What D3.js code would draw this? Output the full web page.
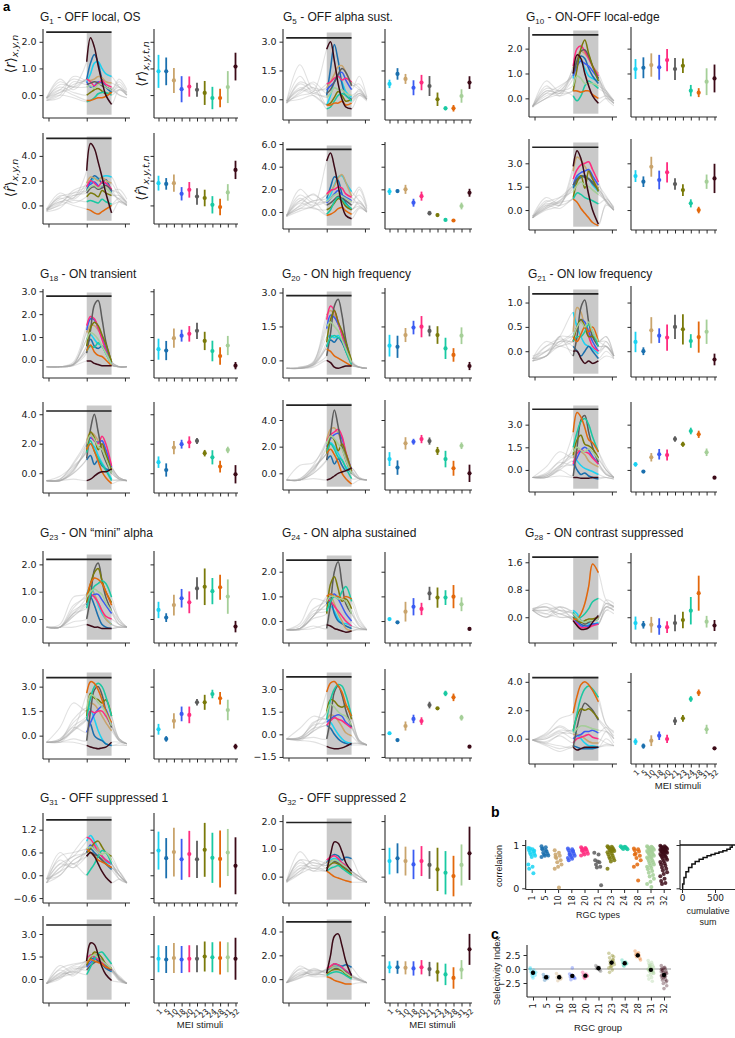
<!DOCTYPE html>
<html><head><meta charset="utf-8">
<script src="https://cdn.jsdelivr.net/npm/d3@7"></script>
<style>body{margin:0;background:#fff}svg{display:block}</style>
</head><body><svg id="fig" width="735" height="1038"></svg>
<script>
// ---------------- DATA ----------------
const stimuli = ["1","5","10","18","20","21","23","24","28","31","32"];
const stimColors = ["#19d3f3","#1a6fae","#c9a46c","#3b5bf2","#ff2b7f","#5c5c5c","#7a7a0a","#19c9a2","#e3680c","#a5cf98","#3c0a17"];
const groupIds = ["1","5","10","18","20","21","23","24","28","31","32"];
const groupNames = ["OFF local, OS","OFF alpha sust.","ON-OFF local-edge","ON transient","ON high frequency","ON low frequency","ON \u201cmini\u201d alpha","ON alpha sustained","ON contrast suppressed","OFF suppressed 1","OFF suppressed 2"];
const timePoints = [-1.05,-0.7,-0.35,0,0.1,0.2,0.3,0.4,0.5,0.65,0.85,1.05];
const timeDomain = [-1.06,1.08];
const timeTicks = [-1,0,1];
const windowSpan = [0,0.65];

const yDomR = [[-0.86,2.48],[-1.08,3.66],[-0.75,2.87],[-0.79,3.1],[-0.78,3.2],[-0.53,1.34],[-0.88,2.49],[-0.89,2.8],[-0.75,1.87],[-0.73,1.64],[-0.95,2.22]];
const yTicksR = [[0,1,2],[0,1.5,3],[0,1,2],[0,1,2,3],[0,1.5,3],[0,0.5,1],[0,1,2],[0,1,2],[0,0.8,1.6],[-0.6,0,0.6,1.2],[0,1,2]];
const barR = [2.36,3.2,2.55,2.79,2.86,1.18,2.18,2.47,1.75,1.46,1.95];
const yDomH = [[-1.5,5.85],[-1.5,6.18],[-1.28,4.56],[-1.34,4.83],[-1.25,5.5],[-1.46,4.5],[-1.43,4.08],[-1.57,4.33],[-1.78,4.62],[-1.6,4.2],[-2.0,5.3]];
const yTicksH = [[0,2,4],[0,2,4,6],[0,1.5,3],[0,2,4],[0,2,4],[0,1.5,3],[0,1.5,3],[-1.5,0,1.5,3],[0,2,4],[0,1.5,3],[0,2,4]];
const barH = [5.42,5.53,4.03,4.22,5.12,4.02,3.55,3.81,4.29,3.6,4.8];

const meanR = [
[0.89,0.89,0.55,0.22,0.32,0.2,0.08,-0.11,-0.11,0.3,1.07],
[0.8,1.32,1.06,0.6,0.87,0.69,0.0,-0.47,-0.47,0.17,0.87],
[1.18,1.23,1.34,1.25,1.54,1.18,1.31,0.31,0.23,0.67,0.8],
[0.47,0.41,0.95,1.06,1.14,1.27,0.83,0.39,0.17,0.63,-0.25],
[0.65,0.6,1.12,1.45,1.49,1.3,1.12,0.53,0.24,1.09,-0.25],
[0.19,0.0,0.43,0.32,0.28,0.5,0.45,0.21,0.29,0.4,-0.17],
[0.33,0.05,0.51,0.76,0.61,1.12,1.18,1.02,1.16,0.82,-0.28],
[0.08,-0.05,0.38,0.58,0.49,1.12,0.95,0.95,0.99,0.68,-0.32],
[-0.17,-0.22,-0.22,-0.27,-0.29,-0.17,-0.08,0.19,0.7,-0.13,-0.24],
[0.65,0.45,0.61,0.42,0.56,0.42,0.67,0.46,0.43,0.6,0.25],
[0.56,0.66,0.56,0.44,0.56,0.42,0.26,0.14,0.02,0.42,0.84]];
const errR = [
[0.62,0.52,0.47,0.49,0.38,0.26,0.45,0.42,0.35,0.6,0.52],
[0.22,0.3,0.26,0.39,0.4,0.52,0.35,0.1,0.17,0.35,0.33],
[0.4,0.42,0.47,0.5,0.45,0.44,0.29,0.23,0.18,0.54,0.56],
[0.46,0.42,0.42,0.26,0.34,0.36,0.4,0.45,0.38,0.42,0.16],
[0.48,0.49,0.31,0.3,0.47,0.24,0.39,0.47,0.3,0.37,0.18],
[0.21,0.08,0.27,0.15,0.27,0.25,0.31,0.14,0.32,0.25,0.12],
[0.3,0.16,0.38,0.34,0.4,0.41,0.67,0.48,0.46,0.63,0.21],
[0.04,0.05,0.4,0.35,0.25,0.27,0.41,0.3,0.47,0.28,0.05],
[0.19,0.11,0.23,0.24,0.17,0.24,0.24,0.4,0.51,0.17,0.16],
[0.5,0.53,0.64,0.54,0.61,0.49,0.71,0.66,0.75,0.62,0.75],
[0.48,0.54,0.52,0.53,0.54,0.5,0.78,0.78,0.73,0.74,0.96]];
const meanH = [
[1.8,1.74,1.8,0.94,1.26,0.72,0.6,0.05,-0.13,1.05,2.87],
[1.8,1.85,2.0,0.82,1.4,-0.1,-0.27,-0.7,-0.75,0.53,1.7],
[2.18,1.82,2.78,1.93,2.42,1.67,1.28,0.43,0.0,1.82,2.03],
[0.75,0.22,1.74,1.97,2.1,2.19,1.36,1.08,0.45,1.58,-0.07],
[1.07,0.43,2.25,2.37,2.57,2.42,1.68,1.07,0.38,2.07,0.0],
[0.37,-0.11,0.84,1.04,0.99,2.05,1.7,2.58,2.36,1.17,-0.51],
[0.39,-0.2,0.9,1.33,1.27,2.04,2.04,2.55,2.29,1.57,-0.67],
[0.07,-0.38,0.55,1.02,0.88,1.94,1.72,2.71,2.45,1.1,-0.82],
[-0.21,-0.52,-0.14,0.21,-0.02,1.24,1.43,2.79,3.23,0.66,-0.68],
[1.35,1.3,1.4,1.3,1.35,1.35,1.5,1.45,1.4,1.45,1.35],
[1.0,1.0,0.95,0.9,1.0,0.85,0.6,0.4,0.1,0.8,2.5]];
const errH = [
[0.6,0.47,0.7,0.54,0.63,0.67,0.67,0.7,0.67,0.67,0.74],
[0.3,0.15,0.4,0.35,0.4,0.2,0.15,0.1,0.1,0.3,0.35],
[0.38,0.34,0.64,0.6,0.65,0.37,0.37,0.26,0.21,0.46,0.94],
[0.39,0.45,0.45,0.3,0.4,0.2,0.22,0.48,0.4,0.22,0.62],
[0.52,0.54,0.46,0.22,0.31,0.27,0.3,0.62,0.56,0.25,0.65],
[0.15,0.09,0.28,0.35,0.37,0.19,0.17,0.22,0.24,0.25,0.07],
[0.33,0.17,0.47,0.45,0.51,0.2,0.46,0.26,0.38,0.63,0.17],
[0.1,0.08,0.3,0.28,0.25,0.22,0.08,0.18,0.25,0.19,0.05],
[0.23,0.18,0.38,0.3,0.29,0.27,0.23,0.2,0.23,0.32,0.1],
[0.9,0.9,1.0,0.9,0.9,0.9,1.0,1.0,1.1,1.0,1.4],
[0.5,0.55,0.55,0.6,0.6,0.6,0.8,0.9,0.9,0.8,1.3]];

// traces: one row per stimulus (order of `stimuli`), values at `timePoints`
const trR_1 = [
[-0.1,0.2,0.6,0.5,0.8,1.2,1.25,1.0,0.8,0.7,0.3,0.0],
[-0.15,0.1,0.4,0.6,1.2,1.52,1.2,0.6,0.3,0.1,0.2,0.0],
[-0.1,0.5,0.3,0.6,0.55,0.6,0.7,0.65,0.5,0.45,0.3,0.1],
[-0.2,0.0,0.7,0.5,0.3,0.35,0.5,0.45,0.3,0.2,0.5,0.1],
[-0.1,0.6,0.2,0.6,0.5,0.35,0.45,0.55,0.4,0.3,0.0,-0.1],
[-0.2,-0.1,0.5,0.4,0.45,0.5,0.45,0.35,0.3,0.2,0.6,0.2],
[-0.1,0.3,0.1,0.0,0.1,0.2,0.25,0.15,0.05,0.1,0.4,0.0],
[-0.2,0.0,-0.1,-0.25,-0.2,-0.1,0.05,0.1,0.1,0.0,0.2,0.1],
[-0.1,0.2,0.0,-0.2,-0.2,-0.15,-0.1,-0.1,-0.05,0.1,0.3,0.0],
[-0.15,0.4,0.3,0.3,0.35,0.25,0.4,0.4,0.3,0.2,0.0,-0.1],
[-0.1,0.1,0.3,1.25,2.15,1.8,1.1,0.5,0.0,-0.35,0.2,0.0]];
const trH_1 = [
[-0.3,0.2,1.0,1.5,1.8,2.2,2.1,2.3,2.4,2.3,1.0,0.2],
[-0.4,0.5,0.8,1.2,2.0,2.4,2.2,1.8,2.1,1.0,0.5,0.0],
[-0.5,0.8,0.6,1.8,2.3,2.2,2.0,2.3,2.0,1.8,0.8,0.3],
[-0.4,0.1,1.2,1.6,1.7,1.9,1.6,1.5,1.8,1.2,1.0,0.2],
[-0.3,1.0,0.5,1.5,2.0,1.8,1.5,1.9,1.8,1.3,0.3,0.0],
[-0.5,-0.2,0.8,1.0,1.4,1.5,1.3,1.4,1.6,1.2,1.3,0.5],
[-0.3,0.6,0.2,0.7,1.0,0.9,0.7,1.2,1.0,0.8,0.8,0.1],
[-0.4,0.0,0.4,0.3,0.4,0.3,0.2,0.5,0.3,0.1,0.6,0.0],
[-0.3,0.3,0.0,-0.3,-0.4,-0.6,-0.7,-0.5,-0.3,0.0,0.3,0.1],
[-0.4,0.7,1.0,1.2,1.5,1.6,1.4,1.6,1.4,1.0,0.5,0.0],
[-0.3,0.3,0.6,2.8,5.0,4.6,3.5,2.3,1.0,-0.6,0.3,0.0]];
const trR_5 = [
[-0.1,0.5,0.8,-0.3,0.2,0.9,1.2,0.9,0.4,0.1,0.3,0.0],
[-0.2,0.6,0.3,0.2,1.6,2.85,2.0,0.8,0.2,0.0,0.3,0.0],
[-0.1,1.8,0.5,0.6,0.9,1.3,1.7,1.75,1.4,0.8,0.5,0.0],
[-0.2,0.9,0.6,0.5,0.7,0.9,1.3,1.4,1.0,0.5,1.2,0.1],
[-0.1,1.2,0.3,0.8,0.9,1.1,1.2,1.0,1.1,0.9,0.6,0.0],
[-0.2,0.4,0.9,0.3,0.5,0.9,1.3,1.6,1.4,0.7,0.8,0.1],
[-0.1,0.5,0.2,-0.3,-0.2,0.1,0.4,0.2,-0.1,0.0,0.5,0.0],
[-0.2,0.3,0.6,-0.5,-0.4,-0.1,0.2,0.3,0.2,-0.1,0.3,0.0],
[-0.1,0.0,0.2,-0.3,-0.3,-0.2,-0.2,-0.1,-0.3,-0.2,0.2,-0.1],
[-0.2,0.8,0.4,0.1,0.3,0.6,0.5,0.5,0.3,0.2,0.4,0.0],
[-0.1,0.2,0.4,2.6,3.0,2.0,0.8,0.0,-0.4,-0.5,0.2,0.0]];
const trH_5 = [
[-0.3,1.5,0.8,1.0,1.5,2.4,3.1,3.2,2.6,1.8,1.0,0.2],
[-0.3,0.5,1.0,1.2,2.2,3.1,2.8,1.6,0.8,0.2,0.8,0.1],
[-0.4,2.0,1.0,1.5,1.8,2.3,3.0,3.3,2.6,1.4,2.2,0.5],
[-0.3,1.0,1.5,0.8,1.2,1.6,1.9,1.5,1.3,1.0,1.5,0.3],
[-0.4,1.2,0.5,1.6,1.9,2.0,2.2,2.1,1.6,1.3,0.6,0.0],
[-0.3,0.6,1.6,0.6,0.8,1.1,1.4,1.2,1.0,0.6,2.0,0.3],
[-0.4,0.8,0.3,0.2,0.4,0.8,1.2,1.0,0.5,0.2,1.0,0.0],
[-0.3,0.3,0.9,-0.2,0.2,0.9,1.3,1.1,0.7,0.3,0.5,0.0],
[-0.4,0.1,0.4,-0.3,-0.2,0.0,0.3,0.4,0.1,-0.2,0.4,0.0],
[-0.3,1.0,0.6,0.9,1.2,1.5,1.6,1.4,1.2,0.9,0.8,0.1],
[-0.3,0.3,0.5,4.5,5.2,4.0,2.3,0.6,-0.3,-0.6,0.3,0.0]];
const trR_10 = [
[-0.35,0.3,0.2,0.8,1.6,1.5,1.2,0.9,0.8,0.7,0.2,-0.1],
[-0.3,0.0,0.4,1.0,1.5,1.7,1.6,1.2,0.9,0.6,0.1,-0.2],
[-0.35,0.7,0.3,1.2,1.7,1.9,1.8,1.6,1.3,1.0,0.3,-0.1],
[-0.3,0.2,0.5,0.9,1.3,1.5,1.4,1.3,1.1,0.8,0.2,-0.2],
[-0.35,0.5,0.1,1.3,2.0,2.1,1.9,1.6,1.3,0.9,0.0,-0.3],
[-0.3,0.1,0.3,1.0,1.5,1.9,1.95,1.7,1.3,0.8,0.3,-0.2],
[-0.35,0.3,0.2,0.3,1.2,2.0,2.35,1.8,1.3,0.7,0.1,-0.2],
[-0.3,0.0,0.3,0.1,-0.1,0.1,0.5,0.7,0.6,0.4,0.2,-0.1],
[-0.35,0.2,0.1,0.3,0.3,0.25,0.3,0.3,0.15,0.0,0.1,-0.1],
[-0.3,0.4,0.3,0.5,0.9,0.8,0.6,0.6,0.6,0.5,0.3,-0.1],
[-0.35,0.0,0.2,1.0,1.75,1.6,1.0,0.5,0.1,-0.2,0.0,-0.2]];
const trH_10 = [
[-0.5,0.3,0.6,1.5,2.1,2.2,2.1,2.0,1.6,1.2,0.5,0.0],
[-0.4,0.1,0.5,1.4,1.9,2.1,2.2,2.0,1.8,1.4,0.6,0.0],
[-0.5,0.6,0.3,2.5,3.4,3.2,2.8,2.4,2.0,1.4,0.6,0.0],
[-0.5,0.2,0.8,1.6,2.2,2.4,2.5,2.6,2.2,1.6,0.9,0.1],
[-0.4,0.8,0.4,2.0,2.6,2.9,3.0,3.1,2.6,1.8,0.5,0.0],
[-0.5,0.1,0.6,1.6,2.0,2.2,2.1,2.0,1.7,1.3,0.8,0.2],
[-0.5,0.4,0.3,0.8,1.8,2.2,1.4,2.5,2.0,1.2,0.6,0.0],
[-0.4,0.2,0.5,0.7,1.1,1.0,0.8,0.7,0.6,0.4,0.7,0.1],
[-0.5,0.3,0.1,0.7,0.5,0.1,-0.2,-0.5,-0.8,-1.0,0.4,0.0],
[-0.4,0.5,0.8,1.2,1.6,1.8,1.6,1.5,1.3,1.0,0.6,0.1],
[-0.5,0.0,0.3,2.8,3.8,3.3,2.2,1.0,0.0,-0.9,0.3,0.0]];
const trR_18 = [
[-0.3,-0.3,-0.2,0.9,1.1,0.9,0.7,0.6,0.3,-0.2,-0.3,-0.3],
[-0.3,-0.3,-0.25,0.6,0.9,0.6,0.5,0.6,0.4,-0.1,-0.3,-0.3],
[-0.3,-0.3,-0.2,1.2,1.5,1.5,1.3,1.0,0.6,-0.1,-0.3,-0.3],
[-0.3,-0.3,-0.2,1.3,1.8,1.75,1.4,1.0,0.5,-0.2,-0.3,-0.3],
[-0.3,-0.3,-0.1,1.5,1.9,1.8,1.4,0.9,0.4,-0.2,-0.3,-0.3],
[-0.3,-0.3,-0.2,0.3,1.3,2.4,2.6,1.8,0.8,-0.1,-0.3,-0.3],
[-0.3,-0.3,-0.2,0.6,1.4,1.65,1.5,1.1,0.7,-0.1,-0.3,-0.3],
[-0.3,-0.3,-0.2,0.4,0.6,0.55,0.75,0.6,0.3,-0.2,-0.3,-0.3],
[-0.3,-0.3,-0.2,0.4,0.65,0.35,0.2,0.15,0.0,-0.25,-0.3,-0.3],
[-0.3,-0.3,-0.15,0.9,1.2,1.1,0.9,0.6,0.3,-0.2,-0.3,-0.3],
[-0.3,-0.3,-0.25,-0.05,-0.05,-0.15,-0.2,-0.25,-0.25,-0.25,-0.3,-0.3]];
const trH_18 = [
[-0.5,-0.5,0.3,1.5,2.0,1.8,1.2,0.7,0.3,-0.4,-0.5,-0.5],
[-0.5,-0.5,0.0,0.9,1.2,0.6,0.9,0.5,0.3,0.2,-0.3,-0.5],
[-0.5,-0.4,0.7,2.2,2.8,2.6,2.2,1.8,1.2,0.2,-0.4,-0.5],
[-0.5,-0.5,0.2,1.8,2.4,2.2,2.1,2.2,1.6,0.4,-0.3,-0.5],
[-0.5,-0.5,0.1,2.0,2.6,2.2,2.0,2.5,2.0,0.5,-0.3,-0.5],
[-0.5,-0.5,0.0,1.0,3.0,4.0,2.8,1.5,0.8,0.0,-0.4,-0.5],
[-0.5,-0.4,0.4,1.5,2.8,2.4,1.6,2.0,1.3,0.2,-0.4,-0.5],
[-0.5,-0.2,0.5,1.4,2.2,1.5,1.0,0.6,0.2,-0.5,-0.4,-0.5],
[-0.5,-0.5,0.2,1.6,2.0,1.5,0.8,0.1,-0.3,-0.7,-0.5,-0.5],
[-0.5,-0.4,0.6,2.0,2.6,2.3,1.8,1.6,1.0,0.0,-0.4,-0.5],
[-0.5,-0.5,-0.4,-0.5,-0.4,-0.2,0.0,0.1,0.1,0.3,-0.3,-0.5]];
const trR_20 = [
[-0.35,-0.35,-0.2,1.0,1.1,1.0,1.1,0.9,0.5,-0.1,-0.3,-0.35],
[-0.35,-0.35,-0.25,0.6,0.9,0.8,1.0,0.8,0.4,-0.15,-0.3,-0.35],
[-0.35,-0.3,-0.1,2.0,2.2,2.0,1.6,1.2,0.6,-0.1,-0.3,-0.35],
[-0.35,-0.35,-0.15,1.4,2.0,1.9,1.6,1.2,0.6,-0.1,-0.3,-0.35],
[-0.35,-0.35,-0.05,1.8,2.4,2.2,1.7,1.1,0.5,-0.2,-0.3,-0.35],
[-0.35,-0.35,-0.2,0.2,1.2,2.4,2.7,2.0,0.9,-0.1,-0.3,-0.35],
[-0.35,-0.35,-0.15,0.8,1.8,2.2,1.7,1.3,0.8,0.0,-0.3,-0.35],
[-0.35,-0.35,-0.2,0.6,1.0,1.1,1.0,0.9,0.4,-0.2,-0.3,-0.35],
[-0.35,-0.35,-0.2,0.5,0.4,0.2,0.1,0.0,-0.1,-0.25,-0.3,-0.35],
[-0.35,-0.3,-0.1,1.5,1.7,1.5,1.3,0.9,0.5,-0.1,-0.3,-0.35],
[-0.35,-0.35,-0.3,0.0,-0.1,-0.3,-0.35,-0.3,-0.25,-0.25,-0.3,-0.35]];
const trH_20 = [
[-0.5,-0.5,0.3,1.8,2.3,2.0,1.5,1.0,0.5,0.0,-0.4,-0.5],
[-0.5,-0.5,0.0,1.0,1.3,0.7,1.1,0.6,0.2,0.4,-0.3,-0.5],
[-0.5,-0.4,0.6,2.5,3.3,3.4,3.0,2.2,1.2,0.0,-0.4,-0.5],
[-0.5,-0.5,0.2,2.0,2.6,2.9,3.0,2.6,1.5,0.3,-0.4,-0.5],
[-0.5,-0.5,0.1,2.4,2.9,3.1,3.3,2.8,1.6,0.2,-0.4,-0.5],
[-0.5,-0.5,0.0,1.0,3.0,4.75,3.5,2.0,1.0,0.0,-0.4,-0.5],
[-0.5,-0.4,0.5,1.5,2.8,2.5,1.7,2.2,1.5,0.2,-0.4,-0.5],
[-0.5,-0.5,0.4,1.5,2.2,1.8,1.2,1.0,0.4,-0.4,-0.4,-0.5],
[-0.5,-0.5,0.3,1.5,1.8,1.4,0.8,0.0,-0.4,-0.8,-0.5,-0.5],
[-0.5,0.6,0.8,2.2,2.8,2.6,2.2,1.8,1.0,0.0,-0.4,-0.5],
[-0.5,-0.5,-0.4,-0.5,-0.4,-0.2,0.0,0.1,0.2,0.4,-0.3,-0.5]];
const trR_21 = [
[-0.15,0.0,0.3,0.8,0.5,0.3,0.15,0.1,0.05,-0.05,0.1,-0.1],
[-0.2,-0.1,0.2,0.1,0.0,-0.1,0.0,0.1,0.0,-0.15,0.0,-0.15],
[-0.15,0.1,0.2,0.4,0.9,0.8,0.5,0.35,0.3,0.2,0.2,-0.1],
[-0.2,-0.1,0.3,0.3,0.5,0.65,0.6,0.4,0.2,0.0,0.1,-0.1],
[-0.1,0.0,0.1,0.2,0.5,0.6,0.5,0.3,0.1,0.0,0.2,-0.1],
[-0.15,-0.1,0.3,-0.1,0.3,0.9,1.05,0.6,0.3,0.1,0.1,-0.15],
[-0.2,0.1,0.25,0.2,0.5,0.65,0.5,0.3,0.3,0.2,0.3,-0.1],
[-0.15,-0.1,0.2,0.2,0.3,0.3,0.4,0.55,0.4,0.1,0.1,-0.1],
[-0.2,0.0,0.15,0.3,0.2,0.35,0.5,0.4,0.5,0.2,0.3,-0.1],
[-0.15,0.2,0.1,0.3,0.5,0.6,0.5,0.6,0.4,0.2,0.1,-0.1],
[-0.2,-0.1,0.1,0.0,0.0,-0.15,-0.25,-0.2,-0.25,-0.2,-0.1,-0.15]];
const trH_21 = [
[-0.5,-0.4,0.3,1.0,0.6,0.3,0.1,0.0,-0.1,-0.3,-0.5,-0.6],
[-0.5,-0.5,0.0,0.6,0.0,-0.3,-0.2,-0.4,-0.5,-0.6,-0.5,-0.6],
[-0.5,0.2,1.2,0.8,1.3,1.2,1.0,0.6,0.4,0.2,-0.3,-0.5],
[-0.5,-0.3,0.5,0.3,0.8,1.3,1.5,1.3,0.9,0.4,-0.3,-0.5],
[-0.5,-0.4,0.2,0.4,1.1,1.3,1.2,1.1,0.8,0.4,-0.3,-0.5],
[-0.5,-0.5,0.0,-0.4,1.5,3.3,3.6,2.5,1.5,0.5,-0.2,-0.5],
[-0.5,-0.3,0.3,1.0,2.0,2.3,1.7,1.6,1.4,0.8,0.0,-0.5],
[-0.5,-0.5,0.1,1.5,2.5,3.2,3.4,3.0,2.2,1.2,0.0,-0.5],
[-0.5,-0.4,0.2,2.5,3.8,3.5,2.8,2.0,1.8,1.2,0.2,-0.5],
[-0.5,-0.2,0.6,1.2,1.5,1.3,1.2,1.4,1.2,0.7,0.0,-0.5],
[-0.5,-0.5,-0.4,-0.5,-0.5,-0.55,-0.55,-0.55,-0.5,-0.5,-0.5,-0.6]];
const trR_23 = [
[-0.3,-0.3,0.4,0.9,1.2,0.9,0.5,0.2,0.0,-0.2,-0.3,-0.3],
[-0.3,-0.3,0.1,0.5,0.8,0.5,0.1,-0.2,-0.3,-0.35,-0.3,-0.3],
[-0.3,-0.2,0.8,0.9,1.1,0.9,0.6,0.3,0.0,-0.2,-0.3,-0.3],
[-0.3,-0.3,0.3,0.6,0.8,0.9,0.9,0.7,0.5,0.2,-0.2,-0.3],
[-0.3,-0.3,0.2,0.6,0.9,0.8,0.6,0.3,0.1,0.0,-0.2,-0.3],
[-0.3,-0.3,-0.1,0.0,0.8,1.8,2.05,1.4,0.8,0.3,-0.2,-0.3],
[-0.3,-0.3,0.1,0.6,1.3,1.7,1.85,1.4,1.0,0.6,-0.1,-0.3],
[-0.3,-0.3,0.2,0.4,0.9,1.2,1.3,1.4,1.3,0.8,0.0,-0.3],
[-0.3,-0.3,0.2,0.8,1.3,1.5,1.45,1.3,1.0,0.5,0.0,-0.3],
[-0.3,-0.3,0.5,0.8,1.0,1.1,1.0,0.9,0.6,0.3,-0.1,-0.3],
[-0.3,-0.3,-0.3,-0.2,-0.25,-0.3,-0.3,-0.35,-0.35,-0.35,-0.3,-0.3]];
const trH_23 = [
[-0.4,-0.3,1.0,1.7,1.6,1.0,0.3,-0.2,-0.5,-0.6,-0.5,-0.6],
[-0.4,-0.4,0.3,1.0,0.7,0.0,-0.2,-0.3,-0.5,-0.6,-0.6,-0.6],
[-0.4,0.5,2.0,1.5,2.0,1.9,1.6,1.2,0.8,0.3,-0.3,-0.5],
[-0.4,-0.3,0.5,0.2,0.8,1.3,1.6,1.8,1.6,0.6,-0.3,-0.5],
[-0.4,-0.3,0.4,1.0,1.5,1.4,1.5,1.5,1.2,0.6,-0.3,-0.5],
[-0.4,-0.4,-0.2,-0.3,1.5,2.8,3.0,2.5,1.5,0.5,-0.3,-0.5],
[-0.4,-0.2,0.6,1.2,2.6,2.3,2.2,2.0,2.2,1.2,-0.2,-0.5],
[-0.4,-0.3,0.3,1.0,2.3,3.0,3.2,3.0,2.4,1.2,-0.2,-0.5],
[-0.4,-0.3,0.4,2.6,3.3,3.2,2.8,2.2,1.5,0.8,-0.2,-0.5],
[-0.4,-0.2,0.8,1.6,2.5,2.4,2.0,1.8,1.4,0.6,-0.2,-0.5],
[-0.4,-0.4,-0.4,-0.6,-0.7,-0.75,-0.8,-0.75,-0.7,-0.4,-0.4,-0.5]];
const trR_24 = [
[-0.35,-0.3,0.4,0.5,0.6,0.4,0.1,-0.1,-0.1,-0.2,-0.3,-0.35],
[-0.35,-0.35,0.2,0.7,0.8,0.3,0.0,-0.1,-0.2,-0.3,-0.35,-0.35],
[-0.35,-0.1,0.9,0.8,1.0,0.7,0.3,0.0,-0.3,-0.4,-0.3,-0.35],
[-0.35,-0.3,0.2,0.7,1.0,1.1,0.9,0.6,0.3,0.0,-0.3,-0.35],
[-0.35,-0.3,0.2,0.9,0.8,0.6,0.4,0.2,0.0,-0.2,-0.3,-0.35],
[-0.35,-0.35,-0.2,-0.3,0.7,2.0,2.4,1.5,0.7,0.3,-0.2,-0.35],
[-0.35,-0.3,0.1,0.3,1.5,1.8,1.3,0.8,0.9,0.5,-0.2,-0.35],
[-0.35,-0.3,0.3,0.4,0.8,1.0,0.9,1.2,1.4,0.8,0.0,-0.35],
[-0.35,-0.3,0.2,1.0,1.1,1.0,1.0,0.9,1.0,0.9,0.1,-0.35],
[-0.35,-0.2,0.5,0.8,1.0,1.0,0.9,0.9,0.8,0.3,-0.1,-0.35],
[-0.35,-0.35,-0.3,-0.15,-0.2,-0.3,-0.35,-0.4,-0.45,-0.4,-0.35,-0.35]];
const trH_24 = [
[-0.3,-0.3,0.8,1.0,0.8,0.4,0.0,-0.3,-0.5,-0.6,-0.6,-0.7],
[-0.3,-0.4,0.2,0.6,0.4,0.0,-0.3,-0.5,-0.6,-0.7,-0.7,-0.7],
[-0.3,0.4,1.2,1.0,1.3,1.2,0.9,0.5,0.1,-0.1,-0.6,-0.7],
[-0.3,-0.2,0.6,0.8,1.0,1.2,1.3,1.2,0.8,0.5,-0.5,-0.7],
[-0.3,-0.3,0.4,0.6,0.9,1.1,1.0,0.9,0.7,0.4,-0.5,-0.7],
[-0.3,-0.3,-0.2,-0.3,1.0,2.8,3.2,2.6,1.6,0.5,-0.5,-0.7],
[-0.3,-0.2,0.4,1.5,2.3,2.2,1.9,1.8,1.9,1.0,-0.4,-0.7],
[-0.3,-0.3,0.2,1.0,2.3,3.0,3.3,3.2,2.6,1.2,-0.4,-0.7],
[-0.3,-0.3,0.3,2.8,3.4,3.5,3.2,2.8,2.0,1.2,-0.4,-0.7],
[-0.3,-0.2,0.7,1.4,2.0,1.8,1.5,1.3,1.2,0.6,-0.4,-0.7],
[-0.3,-0.4,-0.5,-0.8,-0.9,-0.95,-0.95,-0.9,-0.8,-0.6,-0.6,-0.7]];
const trR_28 = [
[0.2,0.3,0.1,0.2,0.1,-0.1,-0.15,-0.2,-0.2,-0.15,0.2,0.3],
[0.2,0.0,0.3,0.1,-0.1,-0.2,-0.25,-0.25,-0.2,-0.2,0.3,0.2],
[0.2,0.4,0.2,0.0,-0.1,-0.15,-0.2,-0.1,-0.05,0.0,0.4,0.3],
[0.25,0.1,0.0,0.0,-0.15,-0.25,-0.3,-0.25,-0.2,-0.2,0.2,0.1],
[0.2,0.2,0.3,-0.1,-0.2,-0.3,-0.3,-0.3,-0.25,-0.2,0.3,0.35],
[0.2,0.0,0.2,0.1,0.0,-0.1,-0.2,-0.15,-0.1,-0.05,0.5,0.4],
[0.25,0.3,0.0,0.0,-0.1,-0.15,-0.1,-0.05,-0.05,0.0,0.3,0.2],
[0.2,0.1,0.3,0.15,-0.05,0.0,0.1,0.25,0.45,0.55,0.4,0.3],
[0.2,0.2,0.1,-0.05,-0.05,0.1,0.4,0.9,1.55,1.3,0.5,0.3],
[0.25,0.3,0.2,0.1,0.0,-0.1,-0.15,-0.1,-0.1,-0.05,0.4,0.3],
[0.2,0.0,0.1,-0.1,-0.25,-0.35,-0.35,-0.3,-0.15,0.05,0.3,0.2]];
const trH_28 = [
[-0.1,-0.3,0.3,0.6,0.3,0.0,-0.3,-0.5,-0.5,-0.6,0.0,-0.5],
[-0.1,-0.4,-0.7,-0.5,-0.6,-0.7,-0.7,-0.7,-0.7,-0.6,-0.4,-0.5],
[-0.1,0.3,0.8,0.3,0.3,0.2,0.0,-0.2,-0.3,-0.3,0.5,0.0],
[-0.1,0.0,0.5,0.0,0.2,0.3,0.5,0.5,0.6,0.4,0.8,0.0],
[-0.1,-0.2,0.2,-0.3,0.0,0.1,0.2,0.3,0.1,0.0,-0.3,-0.5],
[-0.1,-0.3,-0.5,-0.6,0.8,1.9,2.5,2.3,2.0,1.3,0.6,-0.3],
[-0.1,0.1,0.6,0.6,1.6,2.1,2.0,2.1,1.9,1.4,0.8,0.2],
[-0.1,0.2,0.9,0.5,1.8,2.9,3.5,3.7,3.5,2.9,1.0,0.5],
[-0.1,0.4,1.4,1.8,3.0,3.8,4.0,3.8,3.4,2.6,1.0,0.4],
[-0.1,0.0,0.4,0.4,0.7,0.9,0.9,0.8,0.7,0.6,0.5,0.0],
[-0.1,-0.5,-0.9,-0.6,-0.8,-0.7,-0.6,-0.6,-0.6,-0.6,-0.5,-0.5]];
const trR_31 = [
[-0.1,0.3,0.5,0.9,1.05,0.9,0.7,0.5,0.35,0.3,0.0,-0.2],
[-0.2,0.0,0.4,0.6,0.7,0.6,0.5,0.4,0.3,0.15,-0.1,-0.2],
[-0.1,0.6,0.3,0.6,0.75,0.8,0.7,0.5,0.3,0.2,0.0,-0.2],
[-0.2,0.2,0.5,0.6,0.8,0.7,0.6,0.5,0.4,0.3,0.0,-0.2],
[-0.1,0.1,0.6,1.0,0.95,0.8,0.6,0.5,0.4,0.3,-0.1,-0.2],
[-0.2,0.3,0.2,0.5,0.6,0.55,0.5,0.4,0.3,0.2,0.1,-0.2],
[-0.1,0.0,0.4,0.6,0.7,0.85,0.9,0.75,0.6,0.5,0.1,-0.2],
[-0.2,0.2,0.3,0.0,0.15,0.3,0.5,0.65,0.6,0.3,0.0,-0.2],
[-0.1,0.4,0.2,0.7,0.6,0.5,0.4,0.35,0.3,0.2,0.0,-0.2],
[-0.2,0.5,0.6,0.7,0.75,0.7,0.6,0.55,0.6,0.4,0.1,-0.2],
[-0.1,0.1,0.3,0.5,0.6,0.5,0.3,0.1,-0.05,-0.2,-0.1,-0.2]];
const trH_31 = [
[-0.3,0.4,0.9,1.2,1.6,1.5,1.3,1.0,0.8,0.5,-0.1,-0.3],
[-0.3,0.1,0.6,0.9,1.3,1.4,1.2,1.0,0.7,0.5,0.0,-0.3],
[-0.3,0.9,0.4,1.0,1.4,1.7,1.5,1.2,0.9,0.6,0.1,-0.3],
[-0.3,0.2,0.8,0.8,1.1,1.3,1.4,1.2,0.9,0.6,0.1,-0.3],
[-0.3,0.3,0.5,1.3,1.6,1.5,1.3,1.1,0.8,0.6,-0.1,-0.3],
[-0.3,0.0,0.7,0.6,0.9,1.1,1.2,1.0,0.8,0.6,0.2,-0.3],
[-0.3,0.4,0.3,0.9,1.4,1.8,1.7,1.4,1.0,0.7,0.0,-0.3],
[-0.3,0.2,0.5,0.3,0.8,1.3,1.7,1.8,1.5,1.0,0.1,-0.3],
[-0.3,0.6,0.2,1.1,1.3,1.2,1.1,1.0,0.8,0.7,0.0,-0.3],
[-0.3,0.7,1.0,1.2,1.5,1.6,1.4,1.2,1.0,0.7,0.0,-0.3],
[-0.3,0.1,0.4,1.2,2.4,2.3,1.6,0.8,0.3,-0.1,-0.2,-0.3]];
const trR_32 = [
[-0.15,0.5,0.3,0.5,0.6,0.65,0.6,0.5,0.4,0.2,0.0,-0.2],
[-0.2,0.2,0.6,0.5,0.7,0.8,0.75,0.6,0.7,0.65,0.1,-0.2],
[-0.15,0.9,0.4,0.5,0.55,0.6,0.5,0.4,0.3,0.1,-0.1,-0.2],
[-0.2,0.3,0.5,0.4,0.5,0.55,0.5,0.45,0.35,0.2,0.0,-0.2],
[-0.15,0.6,0.2,0.6,0.7,0.75,0.65,0.5,0.4,0.2,-0.1,-0.2],
[-0.2,0.1,0.6,0.3,0.45,0.55,0.5,0.4,0.3,0.1,0.0,-0.2],
[-0.15,0.4,0.3,0.3,0.45,0.5,0.45,0.35,0.25,0.1,-0.1,-0.2],
[-0.2,0.2,0.4,0.2,0.3,0.35,0.4,0.3,0.2,0.05,-0.1,-0.2],
[-0.15,0.3,0.2,0.2,0.1,0.0,-0.05,-0.1,-0.15,-0.2,-0.2,-0.2],
[-0.2,0.6,0.5,0.4,0.5,0.6,0.55,0.45,0.35,0.2,0.0,-0.2],
[-0.15,0.1,0.3,0.2,0.8,1.25,1.2,0.9,0.5,0.2,0.0,-0.2]];
const trH_32 = [
[-0.3,0.6,0.4,0.8,1.0,1.2,1.1,0.9,0.6,0.3,0.0,-0.3],
[-0.3,0.2,0.7,0.7,1.0,1.3,1.2,1.1,1.2,1.0,0.2,-0.3],
[-0.3,1.1,0.5,0.8,1.0,1.1,1.0,0.8,0.5,0.2,0.0,-0.3],
[-0.3,0.3,0.8,0.6,0.8,1.0,1.0,0.9,0.7,0.4,0.0,-0.3],
[-0.3,0.8,0.3,0.9,1.1,1.3,1.2,1.0,0.7,0.3,-0.1,-0.3],
[-0.3,0.1,0.9,0.5,0.8,0.9,0.9,0.8,0.6,0.2,0.0,-0.3],
[-0.3,0.5,0.4,0.4,0.7,0.8,0.8,0.7,0.4,0.1,-0.1,-0.3],
[-0.3,0.3,0.6,0.3,0.5,0.6,0.6,0.5,0.3,0.0,-0.1,-0.3],
[-0.3,0.4,0.2,0.2,0.1,-0.1,-0.2,-0.3,-0.4,-0.4,-0.3,-0.3],
[-0.3,0.9,0.7,0.6,0.8,1.0,1.0,0.8,0.5,0.2,0.0,-0.3],
[-0.3,0.1,0.4,0.5,2.0,3.6,3.8,2.8,1.5,0.3,-0.1,-0.3]];

// panel b
const corr_1 = [0.93,0.9,0.88,0.85,0.82,0.8,0.78,0.75,0.72,0.55,0.5,0.45,0.35,0.92,0.87];
const corr_5 = [0.97,0.95,0.9,0.85,0.82,0.8,0.78,0.76,0.75,0.72,0.88,0.92];
const corr_10 = [0.88,0.82,0.78,0.75,0.7,0.65,0.6,0.55,0.5,0.45,0.02,0.72];
const corr_18 = [0.92,0.9,0.88,0.85,0.82,0.8,0.77,0.75,0.72,0.7,0.68,0.65,0.86,0.78];
const corr_20 = [0.95,0.93,0.92,0.9,0.88,0.85,0.82,0.8,0.78,0.76,0.9,0.87];
const corr_21 = [0.82,0.78,0.65,0.6,0.55,0.5,0.48,0.07,0.62];
const corr_23 = [0.97,0.96,0.95,0.93,0.92,0.9,0.88,0.86,0.85,0.83,0.8,0.78,0.75,0.72,0.7,0.68,0.65,0.62,0.45,0.9,0.94,0.87];
const corr_24 = [0.97,0.96,0.95,0.94,0.93,0.92,0.91,0.9,0.95];
const corr_28 = [0.92,0.9,0.88,0.85,0.8,0.75,0.7,0.65,0.55,0.5,0.18,0.78];
const corr_31 = [0.97,0.96,0.95,0.94,0.93,0.92,0.9,0.89,0.88,0.86,0.85,0.83,0.82,0.8,0.78,0.77,0.75,0.73,0.71,0.7,0.68,0.65,0.63,0.6,0.58,0.55,0.52,0.5,0.47,0.44,0.4,0.36,0.31,0.27,0.22,0.15,0.1,0.03];
const corr_32 = [0.98,0.97,0.96,0.95,0.94,0.93,0.92,0.91,0.9,0.89,0.88,0.87,0.86,0.85,0.84,0.83,0.82,0.8,0.79,0.77,0.76,0.74,0.72,0.7,0.68,0.66,0.63,0.61,0.58,0.55,0.52,0.48,0.45,0.41,0.37,0.33,0.28,0.22,0.17,0.12,0.1];
const cumCount = [0,10,30,60,100,150,200,260,320,380,440,500,560,620,680,730,760];
const cumCorr = [0,0.1,0.25,0.38,0.48,0.56,0.62,0.67,0.71,0.75,0.78,0.81,0.84,0.87,0.9,0.95,1.0];
const cumTicks = [0,500];

// panel c
const si_1 = [0.2,-0.2,-0.5,-0.7,-0.9,-1.1,-1.3,-0.6,-1.6,0.0];
const si_5 = [-1.0,-1.3,-1.5,-1.7,-2.0,-1.4];
const si_10 = [-0.8,-1.2,-1.5,-1.8,-2.1,-1.6,-1.3];
const si_18 = [-0.9,-1.2,-1.4,-1.6,-1.9,-1.5,-1.1,-1.7,0.2];
const si_20 = [-0.6,-0.9,-1.1,-1.3,-1.5,-1.2,-1.7];
const si_21 = [0.6,0.3,0.1,-0.2,0.4,-0.4];
const si_23 = [2.8,2.4,2.0,1.7,1.4,1.2,1.0,0.8,0.5,0.2,-0.2,-0.6,1.6,0.9,2.2,0.4];
const si_24 = [1.6,1.3,1.1,0.9,0.7,1.0,0.5];
const si_28 = [3.2,2.9,2.6,2.4,2.2,1.9,2.7,1.6];
const si_31 = [1.5,1.2,1.0,0.8,0.6,0.5,0.3,0.2,0.1,0.0,-0.1,-0.2,-0.3,-0.4,-0.5,-0.6,-0.8,-1.0,-1.2,-1.5,-1.8,-2.2,0.4,-0.3,0.7,-0.7,0.1,-0.1];
const si_32 = [0.6,0.3,0.1,0.0,-0.2,-0.4,-0.6,-0.8,-1.0,-1.2,-1.4,-1.6,-1.8,-2.0,-2.3,-2.6,-3.0,-3.5,-0.5,-0.9,-1.1,-1.3,-0.3,-0.7,-1.5,-2.1,0.2,-0.1];
const siErr = [0.35,0.25,0.3,0.3,0.25,0.35,0.35,0.3,0.35,0.12,0.15];
const siTicks = [-2.5,0,2.5];

// ---------------- DRAWING ----------------
const tracesR = [trR_1,trR_5,trR_10,trR_18,trR_20,trR_21,trR_23,trR_24,trR_28,trR_31,trR_32];
const tracesH = [trH_1,trH_5,trH_10,trH_18,trH_20,trH_21,trH_23,trH_24,trH_28,trH_31,trH_32];
const corrAll = [corr_1,corr_5,corr_10,corr_18,corr_20,corr_21,corr_23,corr_24,corr_28,corr_31,corr_32];
const siAll = [si_1,si_5,si_10,si_18,si_20,si_21,si_23,si_24,si_28,si_31,si_32];

const svg = d3.select("#fig");
const AX = "#2b2b2b";
const TXT = "#1a1a1a";
const SANS = "'Liberation Sans', Arial, sans-serif";
const DJ = "'DejaVu Sans', sans-serif";

const colLayout = [{L:43,Le:130,E:154,Ee:238},{L:283,Le:370,E:385,Ee:472},{L:529,Le:617,E:631,Ee:717}];
const groupCol = [0,1,2,0,1,2,0,1,2,0,1];
const rowBoxes = [[29,118,133,224],[29,120,142,229],[27,117,139,230],[289,378,402,493],[288,378,400,490],[286,377,402,492],[551,643,669,759],[552,643,669,758],[553,643,673,764],[813,903,916,1003],[815,903,916,1003]];
const titlePos = [[40,20.5],[283,20.5],[526,20.5],[40,278],[282,278],[528,278],[40,537],[282,537],[525,537],[40,802],[278,802]];

function spine(x1,y1,x2,y2){
  svg.append("line").attr("x1",x1).attr("y1",y1).attr("x2",x2).attr("y2",y2)
    .attr("stroke",AX).attr("stroke-width",1.1);
}
function styleAxis(a, fs){
  a.select(".domain").remove();
  a.selectAll(".tick line").attr("stroke",AX).attr("stroke-width",1);
  a.selectAll(".tick text").attr("font-family",DJ).attr("font-size",fs||9.5).attr("fill",TXT);
}

function drawRow(c, top, bot, dom, ticks, bar, traces, means, errs, labelX){
  const y = d3.scaleLinear().domain(dom).range([bot, top]);
  const x = d3.scaleLinear().domain(timeDomain).range([c.L+3.2, c.Le-2]);
  const g = svg.append("g");
  g.append("rect").attr("x",x(windowSpan[0])).attr("y",top+3.5)
    .attr("width",x(windowSpan[1])-x(windowSpan[0])).attr("height",(bot-3.3)-(top+3.5))
    .attr("fill","#c9c9c9");
  const line = d3.line().x((d,i)=>x(timePoints[i])).y(d=>y(d)).curve(d3.curveCatmullRom.alpha(0.5));
  g.selectAll("path.gr").data(traces).join("path").attr("class","gr")
    .attr("d",line).attr("fill","none").attr("stroke","#aaaaaa").attr("stroke-opacity",0.35).attr("stroke-width",1.1);
  const lineW = d3.line().defined((d,i)=>timePoints[i]>=windowSpan[0] && timePoints[i]<=windowSpan[1])
    .x((d,i)=>x(timePoints[i])).y(d=>y(d)).curve(d3.curveCatmullRom.alpha(0.5));
  g.selectAll("path.col").data(traces).join("path").attr("class","col")
    .attr("d",lineW).attr("fill","none").attr("stroke",(d,i)=>stimColors[i]).attr("stroke-width",1.5);
  g.append("line").attr("x1",x(timeDomain[0])).attr("x2",x(windowSpan[1]))
    .attr("y1",y(bar)).attr("y2",y(bar)).attr("stroke","#222").attr("stroke-width",1.7);
  spine(c.L,top,c.L,bot); spine(c.L,bot,c.Le,bot);
  g.append("g").attr("transform",`translate(${c.L},0)`)
    .call(d3.axisLeft(y).tickValues(ticks).tickFormat(d3.format(".1f")).tickSize(3.5).tickPadding(3))
    .call(a=>styleAxis(a));
  g.append("g").attr("transform",`translate(0,${bot})`)
    .call(d3.axisBottom(x).tickValues(timeTicks).tickFormat("").tickSize(3.5))
    .call(a=>styleAxis(a));
  const xe = d3.scalePoint().domain(stimuli).range([c.E+4.5, c.Ee-2.5]);
  spine(c.E,top,c.E,bot); spine(c.E,bot,c.Ee,bot);
  g.append("g").attr("transform",`translate(${c.E},0)`)
    .call(d3.axisLeft(y).tickValues(ticks).tickFormat("").tickSize(3.5))
    .call(a=>styleAxis(a));
  const xa = g.append("g").attr("transform",`translate(0,${bot})`)
    .call(d3.axisBottom(xe).tickSize(3.5).tickFormat(labelX ? (d=>d) : ""))
    .call(a=>styleAxis(a,7.5));
  if(labelX){
    xa.selectAll(".tick text").attr("y",0).attr("x",0).attr("dy","0.35em")
      .attr("text-anchor","end").attr("transform","translate(2,7) rotate(-45)");
    svg.append("text").attr("x",(c.E+c.Ee)/2+4).attr("y",bot+24.5).attr("text-anchor","middle")
      .attr("font-family",SANS).attr("font-size",9.5).attr("fill",TXT).text("MEI stimuli");
  }
  g.selectAll("line.eb").data(means).join("line").attr("class","eb")
    .attr("x1",(d,i)=>xe(stimuli[i])).attr("x2",(d,i)=>xe(stimuli[i]))
    .attr("y1",(d,i)=>y(d-errs[i])).attr("y2",(d,i)=>y(d+errs[i]))
    .attr("stroke",(d,i)=>stimColors[i]).attr("stroke-width",1.8);
  g.selectAll("circle.mk").data(means).join("circle").attr("class","mk")
    .attr("cx",(d,i)=>xe(stimuli[i])).attr("cy",d=>y(d)).attr("r",2.1)
    .attr("fill",(d,i)=>stimColors[i]);
}

for(let gi=0; gi<11; gi++){
  const c = colLayout[groupCol[gi]];
  const [t1,b1,t2,b2] = rowBoxes[gi];
  const t = svg.append("text").attr("x",titlePos[gi][0]).attr("y",titlePos[gi][1])
    .attr("font-family",SANS).attr("font-size",12).attr("fill",TXT);
  t.append("tspan").text("G");
  t.append("tspan").attr("font-size",8).attr("dy",3).text(groupIds[gi]);
  t.append("tspan").attr("dy",-3).text(" - " + groupNames[gi]);
  drawRow(c,t1,b1,yDomR[gi],yTicksR[gi],barR[gi],tracesR[gi],meanR[gi],errR[gi],false);
  drawRow(c,t2,b2,yDomH[gi],yTicksH[gi],barH[gi],tracesH[gi],meanH[gi],errH[gi],gi>=8);
}

function mathLabel(x, y, hat, sub){
  const t = svg.append("text").attr("transform",`translate(${x},${y}) rotate(-90)`)
    .attr("text-anchor","middle").attr("font-family",DJ).attr("font-size",13.5).attr("fill",TXT);
  t.append("tspan").text("\u27e8");
  t.append("tspan").attr("font-style","italic").text(hat ? "r\u0302" : "r");
  t.append("tspan").text("\u27e9");
  t.append("tspan").attr("font-style","italic").attr("font-size",9.5).attr("dy",3).text(sub);
}
mathLabel(15,54,false,"x,y,n");
mathLabel(146,64,false,"x,y,t,n");
mathLabel(15,178,true,"x,y,n");
mathLabel(146,178,true,"x,y,t,n");

svg.append("text").attr("x",3).attr("y",11).attr("font-family",SANS).attr("font-weight","bold").attr("font-size",13).attr("fill","#000").text("a");
svg.append("text").attr("x",491).attr("y",817).attr("font-family",SANS).attr("font-weight","bold").attr("font-size",14).attr("fill","#000").text("b");
svg.append("text").attr("x",491).attr("y",939).attr("font-family",SANS).attr("font-weight","bold").attr("font-size",14).attr("fill","#000").text("c");

// ---- panel b
const jit = i => (((i*5)%9)-4)*0.85;
const yb = d3.scaleLinear().domain([0,1]).range([888.3,845]);
const xb = d3.scalePoint().domain(stimuli).range([531.7,663.7]);
spine(525.7,840,525.7,889.5); spine(525.7,889.5,671,889.5);
svg.append("g").attr("transform","translate(525.7,0)")
  .call(d3.axisLeft(yb).tickValues([0,1]).tickFormat(d3.format("d")).tickSize(3.5).tickPadding(3)).call(a=>styleAxis(a));
const xbA = svg.append("g").attr("transform","translate(0,889.5)")
  .call(d3.axisBottom(xb).tickSize(3.5)).call(a=>styleAxis(a,8));
xbA.selectAll(".tick text").attr("y",0).attr("x",0).attr("dy","0.35em").attr("text-anchor","end")
  .attr("transform","translate(0,6) rotate(-90)");
corrAll.forEach((arr,k)=>{
  svg.append("g").selectAll("circle").data(arr).join("circle")
    .attr("cx",(d,i)=>xb(stimuli[k])+jit(i)).attr("cy",d=>yb(d)).attr("r",2)
    .attr("fill",stimColors[k]).attr("fill-opacity",0.85);
});
svg.append("text").attr("transform","translate(502,866) rotate(-90)").attr("text-anchor","middle")
  .attr("font-family",SANS).attr("font-size",9).attr("fill",TXT).text("correlation");
svg.append("text").attr("x",598).attr("y",918).attr("text-anchor","middle")
  .attr("font-family",SANS).attr("font-size",9).attr("fill",TXT).text("RGC types");
const xcum = d3.scaleLinear().domain([0,500]).range([682,715]);
spine(680,840,680,889.5); spine(680,889.5,735,889.5);
svg.append("g").attr("transform","translate(680,0)")
  .call(d3.axisLeft(yb).tickValues([0,1]).tickFormat("").tickSize(3.5)).call(a=>styleAxis(a));
svg.append("g").attr("transform","translate(0,889.5)")
  .call(d3.axisBottom(xcum).tickValues(cumTicks).tickSize(3.5).tickPadding(2)).call(a=>styleAxis(a,9));
svg.append("line").attr("x1",xcum(0)-2).attr("x2",735).attr("y1",yb(1)).attr("y2",yb(1)).attr("stroke","#111").attr("stroke-width",1.4);
svg.append("path").datum(cumCount).attr("d",d3.line().x(d=>xcum(d)).y((d,i)=>yb(cumCorr[i])).curve(d3.curveStepAfter))
  .attr("fill","none").attr("stroke","#111").attr("stroke-width",1.5);
svg.append("text").attr("x",708).attr("y",914).attr("text-anchor","middle").attr("font-family",SANS).attr("font-size",9).attr("fill",TXT).text("cumulative");
svg.append("text").attr("x",708).attr("y",925).attr("text-anchor","middle").attr("font-family",SANS).attr("font-size",9).attr("fill",TXT).text("sum");

// ---- panel c
const yc = d3.scaleLinear().domain([-2.5,2.5]).range([983,955]);
const xc = d3.scalePoint().domain(stimuli).range([533,664]);
spine(527,945,527,997); spine(527,997,671,997);
svg.append("line").attr("x1",527).attr("x2",671).attr("y1",yc(0)).attr("y2",yc(0)).attr("stroke","#999").attr("stroke-width",1);
svg.append("g").attr("transform","translate(527,0)")
  .call(d3.axisLeft(yc).tickValues(siTicks).tickFormat(d3.format(".1f")).tickSize(3.5).tickPadding(3)).call(a=>styleAxis(a));
const xcA = svg.append("g").attr("transform","translate(0,997)")
  .call(d3.axisBottom(xc).tickSize(3.5)).call(a=>styleAxis(a,8.5));
xcA.selectAll(".tick text").attr("y",0).attr("x",0).attr("dy","0.35em").attr("text-anchor","end")
  .attr("transform","translate(0,6) rotate(-90)");
siAll.forEach((arr,k)=>{
  svg.append("g").selectAll("circle").data(arr).join("circle")
    .attr("cx",(d,i)=>xc(stimuli[k])+jit(i)*0.8).attr("cy",d=>yc(d)).attr("r",1.8)
    .attr("fill",stimColors[k]).attr("fill-opacity",0.35);
  const m = d3.mean(arr);
  svg.append("line").attr("x1",xc(stimuli[k])).attr("x2",xc(stimuli[k]))
    .attr("y1",yc(m-siErr[k])).attr("y2",yc(m+siErr[k])).attr("stroke","#000").attr("stroke-width",1.2);
  svg.append("circle").attr("cx",xc(stimuli[k])).attr("cy",yc(m)).attr("r",2.2).attr("fill","#000");
});
svg.append("text").attr("transform","translate(500,971) rotate(-90)").attr("text-anchor","middle")
  .attr("font-family",SANS).attr("font-size",9.5).attr("fill",TXT).text("Selectivity Index");
svg.append("text").attr("x",598).attr("y",1031).attr("text-anchor","middle")
  .attr("font-family",SANS).attr("font-size",9.5).attr("fill",TXT).text("RGC group");
</script></body></html>
